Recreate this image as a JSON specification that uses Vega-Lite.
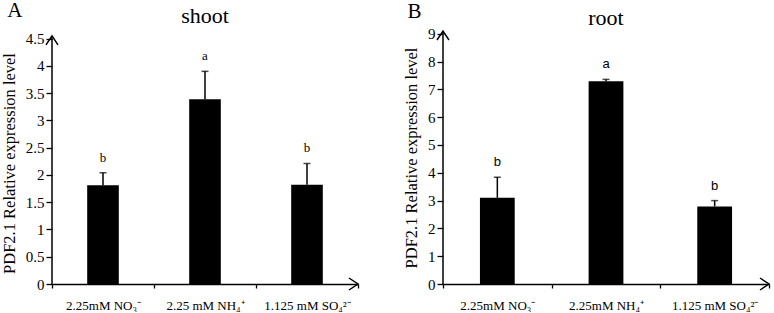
{
  "$schema": "https://vega.github.io/schema/vega-lite/v6.json",
  "padding": {"left": 1, "top": 0, "right": 2, "bottom": 0},
  "background": "white",
  "spacing": 85,
  "bounds": "flush",
  "config": {
    "view": {"stroke": null},
    "font": "Liberation Serif",
    "axis": {
      "domainColor": "black", "domainWidth": 1.5,
      "tickColor": "black", "tickWidth": 1.3,
      "labelFont": "Liberation Serif", "labelFontSize": 15, "labelColor": "black", "labelOverlap": false,
      "titleFont": "Liberation Serif", "titleFontSize": 16.5, "titleFontWeight": "normal", "titleColor": "black",
      "grid": false
    },
    "axisX": {"tickSize": 4, "labelPadding": 11, "labelFontSize": 13, "tickBand": "extent", "labelAngle": 0, "title": null},
    "axisY": {"tickSize": 6, "labelPadding": 2, "titlePadding": 8, "domain": false, "format": "~g"}
  },
  "hconcat": [
    {
      "title": {"text": "A", "anchor": "start", "frame": "bounds", "fontSize": 21, "font": "Liberation Serif", "fontWeight": "normal", "offset": -16, "dx": 6, "color": "black"},
      "width": 306,
      "height": 253,
      "data": {"values": [
        {"cond": "2.25mM NO₃⁻", "value": 1.81, "upper": 2.04, "letter": "b"},
        {"cond": "2.25 mM NH₄⁺", "value": 3.39, "upper": 3.9, "letter": "a"},
        {"cond": "1.125 mM SO₄²⁻", "value": 1.82, "upper": 2.21, "letter": "b"}
      ]},
      "layer": [
        {
          "mark": {"type": "bar", "color": "black", "width": {"band": 0.31}},
          "encoding": {
            "x": {"field": "cond", "type": "nominal", "sort": null,
                  "scale": {"domain": ["2.25mM NO₃⁻", "2.25 mM NH₄⁺", "1.125 mM SO₄²⁻"], "paddingInner": 0, "paddingOuter": 0}},
            "y": {"field": "value", "type": "quantitative",
                  "scale": {"domain": [0, 4.64], "nice": false},
                  "axis": {"values": [0, 0.5, 1, 1.5, 2, 2.5, 3, 3.5, 4, 4.5], "title": "PDF2.1 Relative expression level", "titleY": 132}}
          }
        },
        {
          "mark": {"type": "rule", "strokeWidth": 1.5, "color": "black"},
          "encoding": {
            "x": {"field": "cond", "type": "nominal", "sort": null},
            "y": {"field": "value", "type": "quantitative", "axis": {"values": [0, 0.5, 1, 1.5, 2, 2.5, 3, 3.5, 4, 4.5], "title": "PDF2.1 Relative expression level", "titleY": 132}},
            "y2": {"field": "upper"}
          }
        },
        {
          "mark": {"type": "tick", "color": "black", "size": 7, "thickness": 1.5, "orient": "horizontal"},
          "encoding": {
            "x": {"field": "cond", "type": "nominal", "sort": null},
            "y": {"field": "upper", "type": "quantitative", "axis": {"values": [0, 0.5, 1, 1.5, 2, 2.5, 3, 3.5, 4, 4.5], "title": "PDF2.1 Relative expression level", "titleY": 132}}
          }
        },
        {
          "mark": {"type": "text", "font": "Liberation Serif", "fontSize": 13, "fontWeight": "normal", "dy": -11, "baseline": "alphabetic", "color": "black"},
          "encoding": {
            "x": {"field": "cond", "type": "nominal", "sort": null},
            "y": {"field": "upper", "type": "quantitative", "axis": {"values": [0, 0.5, 1, 1.5, 2, 2.5, 3, 3.5, 4, 4.5], "title": "PDF2.1 Relative expression level", "titleY": 132}},
            "text": {"field": "letter"}
          }
        },
        {
          "data": {"values": [{"panel": "shoot"}]},
          "mark": {"type": "text", "font": "Liberation Serif", "fontSize": 22, "fontWeight": "normal", "baseline": "alphabetic", "color": "black"},
          "encoding": {
            "x": {"datum": "2.25 mM NH₄⁺"},
            "y": {"datum": 4.78, "axis": {"values": [0, 0.5, 1, 1.5, 2, 2.5, 3, 3.5, 4, 4.5], "title": "PDF2.1 Relative expression level", "titleY": 132}},
            "text": {"field": "panel"}
          }
        },
        {
          "data": {"values": [{"axisline": "A-y"}]},
          "mark": {"type": "rule", "strokeWidth": 1.5, "color": "black"},
          "encoding": {
            "x": {"datum": "2.25mM NO₃⁻", "bandPosition": 0},
            "y": {"datum": 0, "axis": {"values": [0, 0.5, 1, 1.5, 2, 2.5, 3, 3.5, 4, 4.5], "title": "PDF2.1 Relative expression level", "titleY": 132}},
            "y2": {"datum": 4.55}
          }
        },
        {
          "data": {"values": [{"arrow": "A-up"}]},
          "mark": {"type": "point", "shape": "M-1,1.5L0,0L1,1.5", "size": 144, "filled": false, "stroke": "black", "strokeWidth": 1.5, "opacity": 1},
          "encoding": {
            "x": {"datum": "2.25mM NO₃⁻", "bandPosition": 0},
            "y": {"datum": 4.55, "axis": {"values": [0, 0.5, 1, 1.5, 2, 2.5, 3, 3.5, 4, 4.5], "title": "PDF2.1 Relative expression level", "titleY": 132}}
          }
        },
        {
          "data": {"values": [{"arrow": "A-right"}]},
          "mark": {"type": "point", "shape": "M-1.5,-1L0,0L-1.5,1", "size": 144, "filled": false, "stroke": "black", "strokeWidth": 1.5, "opacity": 1},
          "encoding": {
            "x": {"datum": "1.125 mM SO₄²⁻", "bandPosition": 1},
            "y": {"datum": 0, "axis": {"values": [0, 0.5, 1, 1.5, 2, 2.5, 3, 3.5, 4, 4.5], "title": "PDF2.1 Relative expression level", "titleY": 132}}
          }
        }
      ]
    },
    {
      "title": {"text": "B", "anchor": "start", "frame": "bounds", "fontSize": 21, "font": "Liberation Serif", "fontWeight": "normal", "offset": -15.5, "dx": 4, "color": "black"},
      "width": 326,
      "height": 253,
      "data": {"values": [
        {"cond": "2.25mM NO₃⁻", "value": 3.1, "upper": 3.84, "letter": "b"},
        {"cond": "2.25mM  NH₄⁺", "value": 7.29, "upper": 7.36, "letter": "a"},
        {"cond": "1.125 mM SO₄²⁻", "value": 2.79, "upper": 3.0, "letter": "b"}
      ]},
      "layer": [
        {
          "mark": {"type": "bar", "color": "black", "width": {"band": 0.32}},
          "encoding": {
            "x": {"field": "cond", "type": "nominal", "sort": null,
                  "scale": {"domain": ["2.25mM NO₃⁻", "2.25mM  NH₄⁺", "1.125 mM SO₄²⁻"], "paddingInner": 0, "paddingOuter": 0}},
            "y": {"field": "value", "type": "quantitative",
                  "scale": {"domain": [0, 9.1], "nice": false},
                  "axis": {"values": [0, 1, 2, 3, 4, 5, 6, 7, 8, 9], "title": "PDF2.1 Relative expression level"}}
          }
        },
        {
          "mark": {"type": "rule", "strokeWidth": 1.5, "color": "black"},
          "encoding": {
            "x": {"field": "cond", "type": "nominal", "sort": null},
            "y": {"field": "value", "type": "quantitative", "axis": {"values": [0, 1, 2, 3, 4, 5, 6, 7, 8, 9], "title": "PDF2.1 Relative expression level"}},
            "y2": {"field": "upper"}
          }
        },
        {
          "mark": {"type": "tick", "color": "black", "size": 7, "thickness": 1.5, "orient": "horizontal"},
          "encoding": {
            "x": {"field": "cond", "type": "nominal", "sort": null},
            "y": {"field": "upper", "type": "quantitative", "axis": {"values": [0, 1, 2, 3, 4, 5, 6, 7, 8, 9], "title": "PDF2.1 Relative expression level"}}
          }
        },
        {
          "mark": {"type": "text", "font": "Liberation Sans", "fontSize": 13, "fontWeight": "normal", "dy": -11, "baseline": "alphabetic", "color": "black"},
          "encoding": {
            "x": {"field": "cond", "type": "nominal", "sort": null},
            "y": {"field": "upper", "type": "quantitative", "axis": {"values": [0, 1, 2, 3, 4, 5, 6, 7, 8, 9], "title": "PDF2.1 Relative expression level"}},
            "text": {"field": "letter"}
          }
        },
        {
          "data": {"values": [{"panel": "root"}]},
          "mark": {"type": "text", "font": "Liberation Serif", "fontSize": 22, "fontWeight": "normal", "baseline": "alphabetic", "color": "black"},
          "encoding": {
            "x": {"datum": "2.25mM  NH₄⁺"},
            "y": {"datum": 9.32, "axis": {"values": [0, 1, 2, 3, 4, 5, 6, 7, 8, 9], "title": "PDF2.1 Relative expression level"}},
            "text": {"field": "panel"}
          }
        },
        {
          "data": {"values": [{"axisline": "B-y"}]},
          "mark": {"type": "rule", "strokeWidth": 1.5, "color": "black"},
          "encoding": {
            "x": {"datum": "2.25mM NO₃⁻", "bandPosition": 0},
            "y": {"datum": 0, "axis": {"values": [0, 1, 2, 3, 4, 5, 6, 7, 8, 9], "title": "PDF2.1 Relative expression level"}},
            "y2": {"datum": 9.1}
          }
        },
        {
          "data": {"values": [{"arrow": "B-up"}]},
          "mark": {"type": "point", "shape": "M-1,1.5L0,0L1,1.5", "size": 144, "filled": false, "stroke": "black", "strokeWidth": 1.5, "opacity": 1},
          "encoding": {
            "x": {"datum": "2.25mM NO₃⁻", "bandPosition": 0},
            "y": {"datum": 9.1, "axis": {"values": [0, 1, 2, 3, 4, 5, 6, 7, 8, 9], "title": "PDF2.1 Relative expression level"}}
          }
        },
        {
          "data": {"values": [{"arrow": "B-right"}]},
          "mark": {"type": "point", "shape": "M-1.5,-1L0,0L-1.5,1", "size": 144, "filled": false, "stroke": "black", "strokeWidth": 1.5, "opacity": 1},
          "encoding": {
            "x": {"datum": "1.125 mM SO₄²⁻", "bandPosition": 1},
            "y": {"datum": 0, "axis": {"values": [0, 1, 2, 3, 4, 5, 6, 7, 8, 9], "title": "PDF2.1 Relative expression level"}}
          }
        }
      ]
    }
  ]
}
